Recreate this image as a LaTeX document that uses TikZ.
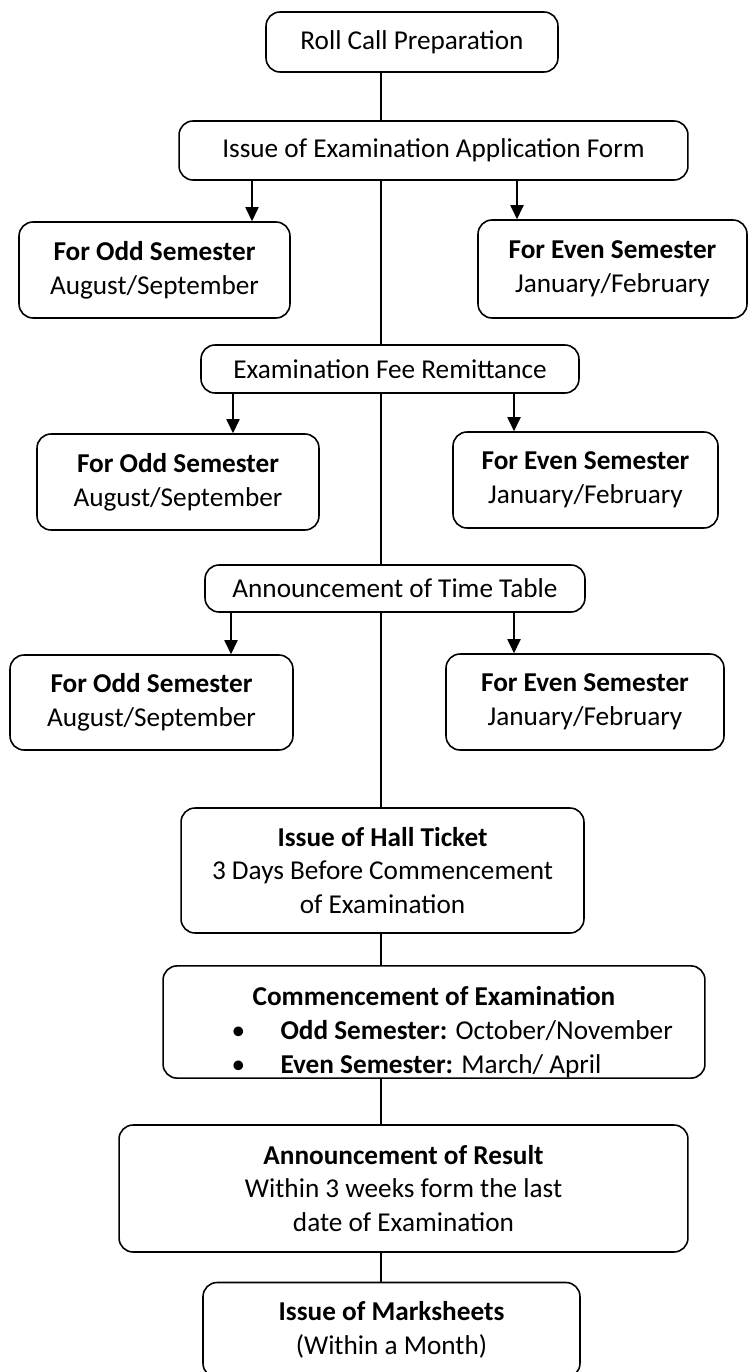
\documentclass[tikz,border=0pt]{standalone}
\usepackage{fontspec}
\setmainfont{Carlito}
\usepackage{tikz}
\usetikzlibrary{arrows.meta}

\begin{document}
\begin{tikzpicture}
            [
            x=0.02cm,y=-0.02cm,
            box/.style={draw,line width=0.9pt,rounded corners=0.28cm,
                align=center,inner sep=0pt,
                font={\fontsize{15.5}{19.3}\selectfont}},
            link/.style={line width=0.8pt},
            arrow/.style={line width=0.8pt,-{Triangle[length=8pt,width=7.5pt]}},
            ]
            \useasboundingbox (0,0) rectangle (749,1372);

            % Top boxes
            \node[box,minimum width=5.84cm,minimum height=1.2cm] (roll) at (412,42)
                {Roll Call Preparation};
            \node[box,minimum width=10.18cm,minimum height=1.18cm] (issue) at (433.5,150.5)
                {Issue of Examination Application Form};

            % Application form semesters
            \node[box,minimum width=5.42cm,minimum height=1.92cm] (oddA) at (154.5,270)
                {\bfseries For Odd Semester\\August/September};
            \node[box,minimum width=5.38cm,minimum height=1.96cm] (evenA) at (612.5,269)
                {\bfseries For Even Semester\\January/February};

            % Fee
            \node[box,minimum width=7.56cm,minimum height=0.96cm] (fee) at (390,369)
                {Examination Fee Remittance};
            \node[box,minimum width=5.64cm,minimum height=1.92cm] (oddB) at (178,482)
                {\bfseries For Odd Semester\\August/September};
            \node[box,minimum width=5.3cm,minimum height=1.92cm] (evenB) at (585.5,480)
                {\bfseries For Even Semester\\January/February};

            % Time table
            \node[box,minimum width=7.6cm,minimum height=0.94cm] (tt) at (395,588.5)
                {Announcement of Time Table};
            \node[box,minimum width=5.66cm,minimum height=1.9cm] (oddC) at (151.5,702.5)
                {\bfseries For Odd Semester\\August/September};
            \node[box,minimum width=5.56cm,minimum height=1.92cm] (evenC) at (585,702)
                {\bfseries For Even Semester\\January/February};

            % Lower boxes
            \node[box,minimum width=8.06cm,minimum height=2.5cm] (hall) at (382.5,870.5)
                {\textbf{Issue of Hall Ticket}\\3 Days Before Commencement\\of Examination};
            \node[box,minimum width=10.84cm,minimum height=2.2cm,text width=10.6cm,
                align=flush center] (comm) at (434,1022)
                {\rule{0pt}{0.8cm}\textbf{Commencement of Examination}\\
                \hspace*{0.76cm}\makebox[8.86cm][l]{\makebox[0.98cm][l]{\textbullet}\textbf{Odd Semester:} October/November}\\
                \hspace*{0.76cm}\makebox[8.86cm][l]{\makebox[0.98cm][l]{\textbullet}\textbf{Even Semester:} March/ April}};
            \node[box,minimum width=11.38cm,minimum height=2.54cm] (result) at (403.5,1188.5)
                {\textbf{Announcement of Result}\\Within 3 weeks form the last\\date of Examination};
            \node[box,minimum width=7.54cm,minimum height=1.9cm] (marks) at (391.5,1330)
                {\textbf{Issue of Marksheets}\\(Within a Month)};

            % Trunk
            \coordinate (spine) at (381,0);
            \draw[link] (roll.south -| spine) -- (issue.north -| spine);
            \draw[link] (issue.south -| spine) -- (fee.north -| spine);
            \draw[link] (fee.south -| spine) -- (tt.north -| spine);
            \draw[link] (tt.south -| spine) -- (hall.north -| spine);
            \draw[link] (hall.south -| spine) -- (comm.north -| spine);
            \draw[link] (comm.south -| spine) -- (result.north -| spine);
            \draw[link] (result.south -| spine) -- (marks.north -| spine);

            % Branch arrows
            \coordinate (lA) at (252,0);
            \coordinate (rA) at (517,0);
            \coordinate (lB) at (233,0);
            \coordinate (rB) at (514,0);
            \coordinate (lC) at (231,0);
            \coordinate (rC) at (514,0);
            \draw[arrow] (issue.south -| lA) -- (oddA.north -| lA);
            \draw[arrow] (issue.south -| rA) -- (evenA.north -| rA);
            \draw[arrow] (fee.south -| lB) -- (oddB.north -| lB);
            \draw[arrow] (fee.south -| rB) -- (evenB.north -| rB);
            \draw[arrow] (tt.south -| lC) -- (oddC.north -| lC);
            \draw[arrow] (tt.south -| rC) -- (evenC.north -| rC);

        \end{tikzpicture}
\end{document}
